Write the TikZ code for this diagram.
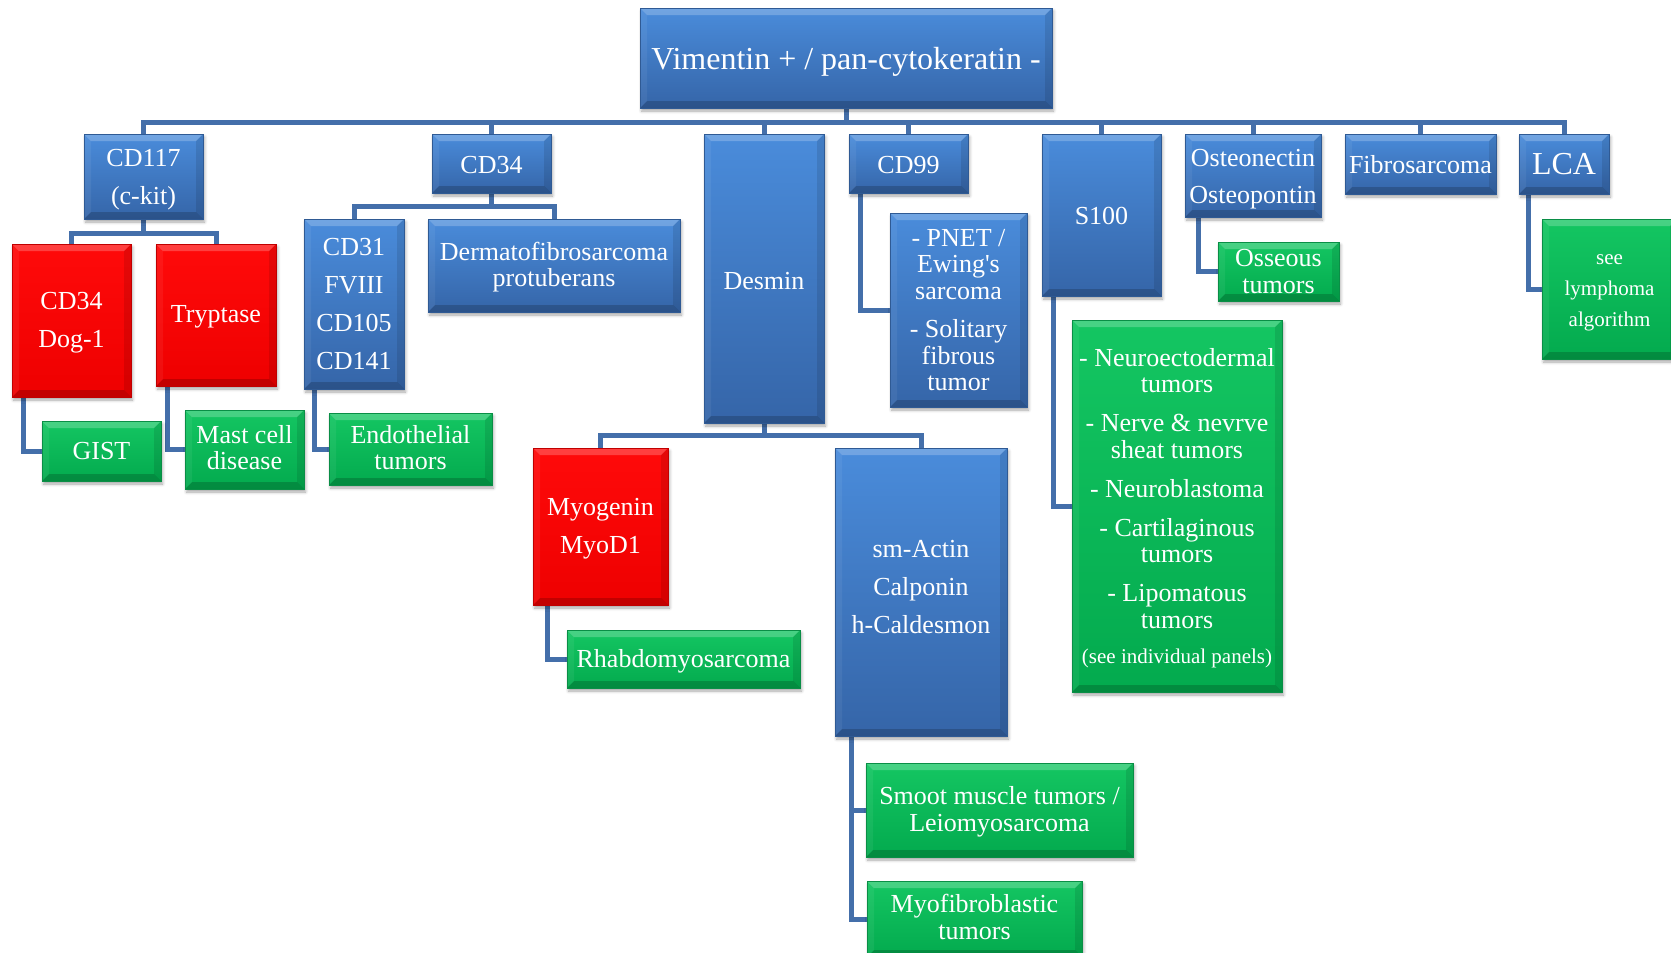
\documentclass[tikz,border=0pt]{standalone}
\usepackage{fontspec}
\setmainfont{Liberation Serif}
\usetikzlibrary{backgrounds,shadows.blur}

\definecolor{linkblue}{RGB}{68,111,170}
\definecolor{bluetop}{HTML}{4A8CDB}
\definecolor{bluebot}{HTML}{3565A8}
\definecolor{blueedge}{HTML}{2F5A94}
\definecolor{redtop}{HTML}{FF0A0A}
\definecolor{redbot}{HTML}{EE0000}
\definecolor{rededge}{HTML}{C00000}
\definecolor{greentop}{HTML}{14C662}
\definecolor{greenbot}{HTML}{03AA4E}
\definecolor{greenedge}{HTML}{0A8E46}

% invisible struts that nudge a label block inside its box
\newcommand{\padtop}[1]{\rule{0pt}{#1}}
\newcommand{\padbot}[1]{\rule[-#1]{0pt}{0pt}}

\begin{document}
\begin{tikzpicture}[x=1pt,y=-1pt,
  boxsize/.style 2 args={minimum width=#1pt, minimum height=#2pt},
  bevel/.style={path picture={
    \path (path picture bounding box.north west) coordinate (bnw)
          (path picture bounding box.north east) coordinate (bne)
          (path picture bounding box.south west) coordinate (bsw)
          (path picture bounding box.south east) coordinate (bse);
    \fill[white,opacity=0.22] (bnw) -- (bne) -- ([shift={(-7pt,-7pt)}]bne) -- ([shift={(7pt,-7pt)}]bnw) -- cycle;
    \fill[black,opacity=0.18] (bsw) -- (bse) -- ([shift={(-7pt,7pt)}]bse) -- ([shift={(7pt,7pt)}]bsw) -- cycle;
    \fill[white,opacity=0.06] (bnw) -- (bsw) -- ([shift={(7pt,7pt)}]bsw) -- ([shift={(7pt,-7pt)}]bnw) -- cycle;
    \fill[black,opacity=0.10] (bne) -- (bse) -- ([shift={(-7pt,7pt)}]bse) -- ([shift={(-7pt,-7pt)}]bne) -- cycle;
  }},
  box/.style={rectangle, inner sep=0pt, text=white, align=center,
    font=\fontsize{26}{26.5}\selectfont, line width=0.6pt, bevel,
    blur shadow={shadow xshift=1.5pt, shadow yshift=-3pt,
      shadow blur steps=5, shadow blur radius=3pt, shadow opacity=35}},
  bluebox/.style={box, top color=bluetop, bottom color=bluebot, draw=blueedge},
  redbox/.style={box, top color=redtop, bottom color=redbot, draw=rededge},
  greenbox/.style={box, top color=greentop, bottom color=greenbot, draw=greenedge},
  link/.style={draw=linkblue, line width=5pt, line join=miter},
]
\path[use as bounding box] (0,0) rectangle (1671,953);
\clip (0,0) rectangle (1671,953);

% root
\node[bluebox, boxsize={412}{100}, font=\fontsize{32}{34}\selectfont] (top) at (846,58) {\padtop{30pt}Vimentin + / pan-cytokeratin -};

% first level markers
\node[bluebox, boxsize={119}{85}] (cd117) at (143.5,176.5) {\padtop{24pt}CD117\\[11.5pt](c-kit)};
\node[bluebox, boxsize={119}{59}] (cd34) at (491.5,163.5) {\padtop{19.5pt}CD34};
\node[bluebox, boxsize={120}{289}] (desmin) at (764,278.5) {\padtop{22pt}Desmin};
\node[bluebox, boxsize={119}{59}] (cd99) at (908.5,163.5) {\padtop{19.5pt}CD99};
\node[bluebox, boxsize={119}{162}] (s100) at (1101.5,215) {\padtop{19.5pt}S100};
\node[bluebox, boxsize={136}{83}] (osteo) at (1253,175.5) {\padtop{24pt}Osteonectin\\[10.5pt]Osteopontin};
\node[bluebox, boxsize={151}{60}] (fibro) at (1420.5,164) {\padtop{20pt}Fibrosarcoma};
\node[bluebox, boxsize={90}{60}, font=\fontsize{32}{34}\selectfont] (lca) at (1564,164) {LCA};

% CD117 branch
\node[redbox, boxsize={119}{153}] (dog1) at (71.5,320.5) {\padtop{21.5pt}CD34\\[11.5pt]Dog-1};
\node[redbox, boxsize={120}{142}] (tryptase) at (216,315) {\padtop{21.5pt}Tryptase};
\node[greenbox, boxsize={119}{60}] (gist) at (101.5,451) {GIST};
\node[greenbox, boxsize={119}{79}] (mast) at (244.5,449.5) {Mast cell\\disease\padbot{4.3pt}};

% CD34 branch
\node[bluebox, boxsize={100}{170}] (cd31) at (354,304) {CD31\\[11.5pt]FVIII\\[11.5pt]CD105\\[11.5pt]CD141};
\node[bluebox, boxsize={252}{93}] (derm) at (554,265.5) {\padtop{22pt}Dermatofibrosarcoma\\protuberans};
\node[greenbox, boxsize={163}{72}] (endo) at (410.5,449) {Endothelial\\tumors\padbot{3pt}};

% Desmin branch
\node[redbox, boxsize={135}{157}] (myog) at (600.5,526.5) {\padtop{21.5pt}Myogenin\\[11.5pt]MyoD1};
\node[bluebox, boxsize={172}{288}] (smact) at (921,592) {sm-Actin\\[11.5pt]Calponin\\[11.5pt]h-Caldesmon\padbot{10.6pt}};
\node[greenbox, boxsize={233}{58}] (rhabdo) at (683.5,659) {\padtop{22pt}Rhabdomyosarcoma};
\node[greenbox, boxsize={267}{94}] (smooth) at (999.5,810) {\padtop{22pt}Smoot muscle tumors /\\Leiomyosarcoma};
\node[greenbox, boxsize={215}{76}] (myofib) at (974.5,919) {Myofibroblastic\\tumors\padbot{4.3pt}};

% CD99 branch
\node[bluebox, boxsize={137}{194}] (pnet) at (958.5,310) {- PNET /\\Ewing\textquotesingle s\\sarcoma\\[12pt]- Solitary\\fibrous\\tumor};

% S100 branch
\node[greenbox, boxsize={210}{372}] (neuro) at (1177,506)
  {\padtop{22pt}- Neuroectodermal\\tumors\\[12.5pt]- Nerve \& nevrve\\sheat tumors\\[12.5pt]- Neuroblastoma\\[12.5pt]- Cartilaginous\\tumors\\[12.5pt]- Lipomatous\\tumors\\[8.5pt]{\fontsize{21}{26.5}\selectfont (see individual panels)}};

% Osteonectin branch
\node[greenbox, boxsize={121}{59}] (osseous) at (1278.5,271.5) {Osseous\\tumors};

% LCA branch
\node[greenbox, boxsize={135}{140}, font=\fontsize{21}{31}\selectfont] (lymph) at (1609.5,289) {\padtop{18pt}see\\lymphoma\\algorithm};

\begin{pgfonlayer}{background}
  % root to first level
  \foreach \n in {cd117,cd34,desmin,cd99,s100,osteo,fibro,lca}
    \draw[link] (top.south) -- ++(0,14) -| (\n.north);
  % tree splits
  \draw[link] (cd117.south) -- ++(0,14) -| (dog1.north);
  \draw[link] (cd117.south) -- ++(0,14) -| (tryptase.north);
  \draw[link] (cd34.south) -- ++(0,13) -| (cd31.north);
  \draw[link] (cd34.south) -- ++(0,13) -| (derm.north);
  \draw[link] (desmin.south) -- ++(0,12) -| (myog.north);
  \draw[link] (desmin.south) -- ++(0,12) -| (smact.north);
  % side links
  \draw[link] ([xshift=12pt]dog1.south west) |- (gist.west);
  \draw[link] ([xshift=12pt]tryptase.south west) |- (mast.west);
  \draw[link] ([xshift=11pt]cd31.south west) |- (endo.west);
  \draw[link] ([xshift=15pt]myog.south west) |- (rhabdo.west);
  \draw[link] ([xshift=17pt]smact.south west) |- (smooth.west);
  \draw[link] ([xshift=17pt]smact.south west) |- (myofib.west);
  \draw[link] ([xshift=12pt]cd99.south west) |- (pnet.west);
  \draw[link] ([xshift=12pt]s100.south west) |- (neuro.west);
  \draw[link] ([xshift=14pt]osteo.south west) |- (osseous.west);
  \draw[link] ([xshift=10pt]lca.south west) |- (lymph.west);
\end{pgfonlayer}
\end{tikzpicture}
\end{document}
